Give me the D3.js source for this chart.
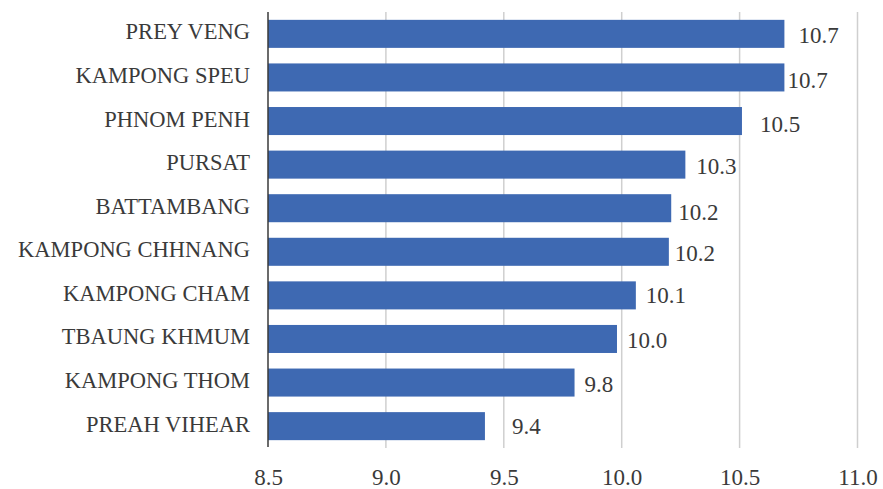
<!DOCTYPE html>
<html>
<head>
<meta charset="utf-8">
<script src="https://cdn.jsdelivr.net/npm/d3@7"></script>
<style>
  html, body { margin: 0; padding: 0; background: #ffffff; }
  svg { display: block; }
</style>
</head>
<body>
<svg id="chart" width="883" height="489" font-family="Liberation Serif"></svg>
<script>
// Provinces, top to bottom
const provinces = [
  "PREY VENG", "KAMPONG SPEU", "PHNOM PENH", "PURSAT", "BATTAMBANG",
  "KAMPONG CHHNANG", "KAMPONG CHAM", "TBAUNG KHMUM", "KAMPONG THOM", "PREAH VIHEAR"
];
// Value per province
const values = [10.69, 10.69, 10.51, 10.27, 10.21, 10.20, 10.06, 9.98, 9.80, 9.42];
// Axis ticks
const ticks = [8.5, 9.0, 9.5, 10.0, 10.5, 11.0];
// Hand-placed offsets of the value labels: [gap after bar end, baseline below bar centre]
const labelNudge = [[14, 9], [3, 10.5], [18, 11], [11, 9], [7, 12], [6, 9.5], [10, 8], [10, 9], [10, 9], [27, 8]];

const FONT = "Liberation Serif";
const INK = "#3a3a3a";

const svg = d3.select("#chart");
const plotTop = 12, plotBottom = 448;

const x = d3.scaleLinear().domain([8.5, 11.0]).range([268, 857.5]);
const y = d3.scaleBand().domain(provinces).range([plotTop, plotBottom])
  .paddingInner(0.357).paddingOuter(0.18);

// Vertical gridlines
svg.append("g").selectAll("line").data(ticks.slice(1)).join("line")
  .attr("x1", d => x(d)).attr("x2", d => x(d))
  .attr("y1", plotTop).attr("y2", plotBottom)
  .attr("stroke", "#cfcfcf").attr("stroke-width", 1.5);

// Bars
const rows = provinces.map((p, i) => ({ p, v: values[i], n: labelNudge[i] }));
svg.append("g").selectAll("rect").data(rows).join("rect")
  .attr("x", x(8.5))
  .attr("y", d => y(d.p))
  .attr("width", d => x(d.v) - x(8.5))
  .attr("height", y.bandwidth())
  .attr("fill", "#3e69b2");

// Category axis line
svg.append("line")
  .attr("x1", x(8.5)).attr("x2", x(8.5))
  .attr("y1", plotTop).attr("y2", plotBottom - 1)
  .attr("stroke", INK).attr("stroke-width", 1.5);

// Category labels
svg.append("g").selectAll("text").data(rows).join("text")
  .attr("x", x(8.5) - 18)
  .attr("y", d => y(d.p) + y.bandwidth() / 2 + 5.5)
  .attr("text-anchor", "end")
  .attr("font-family", FONT).style("font-family", FONT)
  .attr("font-size", 22.5).attr("fill", INK)
  .text(d => d.p);

// Value labels
const fmt = d3.format(".1f");
svg.append("g").selectAll("text").data(rows).join("text")
  .attr("x", d => x(d.v) + d.n[0])
  .attr("y", d => y(d.p) + y.bandwidth() / 2 + d.n[1])
  .attr("font-family", FONT).style("font-family", FONT)
  .attr("font-size", 23).attr("fill", INK)
  .text(d => fmt(d.v));

// Value axis
const xAxis = d3.axisBottom(x).tickValues(ticks).tickFormat(d3.format(".1f")).tickSize(0).tickPadding(0);
const gx = svg.append("g").attr("transform", `translate(0, ${plotBottom})`).call(xAxis);
gx.attr("font-family", FONT).attr("font-size", 23);
gx.select(".domain").remove();
gx.selectAll("text")
  .attr("y", 37).attr("dy", null)
  .attr("font-family", FONT).style("font-family", FONT)
  .attr("fill", INK);
</script>
</body>
</html>
